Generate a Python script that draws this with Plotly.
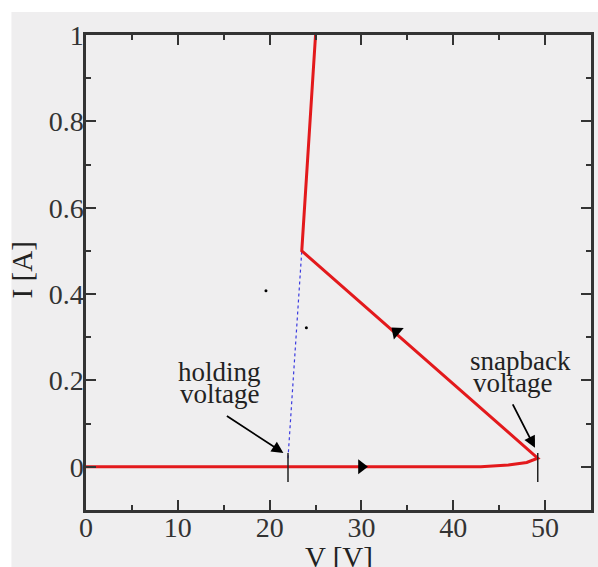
import plotly.graph_objects as go

# I-V snapback curve (red), V in volts, I in amps
curve_v = [0, 43, 46, 48, 49.2, 23.5, 25.0]
curve_i = [0, 0, 0.004, 0.01, 0.02, 0.5, 1.0]

# extrapolation (blue dotted)
extrap_v = [22.0, 23.5]
extrap_i = [0.02, 0.5]

# marker lines at holding and snapback voltage
holding_v = 22.0
snapback_v = 49.2
mark_i = [-0.035, 0.032]

# direction arrows along curve
dir_v = [30.0, 33.8]
dir_i = [0.0, 0.313]
dir_sym = ["triangle-right", "triangle-up"]
dir_angle = [0, -49]

# stray dots
dot_v = [19.6, 24.0]
dot_i = [0.408, 0.322]

x_ticks = [0, 10, 20, 30, 40, 50]
y_ticks = [0, 0.2, 0.4, 0.6, 0.8, 1]
y_tick_text = ["0", "0.2", "0.4", "0.6", "0.8", "1"]

RED = "#e3191c"
FONT = "Liberation Serif"
AX = "#333333"
BG = "#efeeef"

fig = go.Figure()
fig.add_trace(go.Scatter(x=extrap_v, y=extrap_i, mode="lines",
                         line=dict(color="#3a3ae0", width=1.2, dash="dot"), hoverinfo="skip"))
fig.add_trace(go.Scatter(x=curve_v, y=curve_i, mode="lines",
                         line=dict(color=RED, width=3), hoverinfo="skip"))
for v in [holding_v, snapback_v]:
    fig.add_trace(go.Scatter(x=[v, v], y=mark_i, mode="lines",
                             line=dict(color="#222222", width=1.5), hoverinfo="skip"))
fig.add_trace(go.Scatter(x=dir_v, y=dir_i, mode="markers",
                         marker=dict(symbol=dir_sym, angle=dir_angle, size=13, color="black",
                                     line=dict(width=0)), hoverinfo="skip"))
fig.add_trace(go.Scatter(x=dot_v, y=dot_i, mode="markers",
                         marker=dict(size=3, color="black"), hoverinfo="skip"))

L, R, T, B = 86, 4, 35, 57
W, H = 598, 567
pw = W - L - R
ph = H - T - B

def px_x(p):
    return (p - L) / pw

def px_y(p):
    return 1 - (p - T) / ph

shapes = [
    dict(type="rect", xref="paper", yref="paper", x0=px_x(-5), x1=px_x(W + 5),
         y0=px_y(12), y1=px_y(-5), fillcolor="white", line=dict(width=0), layer="below"),
    dict(type="rect", xref="paper", yref="paper", x0=px_x(-5), x1=px_x(11),
         y0=px_y(H + 5), y1=px_y(-5), fillcolor="white", line=dict(width=0), layer="below"),
]

tf = dict(family=FONT, size=27, color="#222222")
annotations = [
    dict(x=21.5, y=0.032, ax=-58, ay=-38, showarrow=True, arrowhead=2, arrowsize=1.3,
         arrowwidth=1.8, arrowcolor="black", text=""),
    dict(x=48.9, y=0.044, ax=-23, ay=-45, showarrow=True, arrowhead=2, arrowsize=1.3,
         arrowwidth=1.8, arrowcolor="black", text=""),
    dict(x=px_x(220), y=px_y(372), xref="paper", yref="paper", text="holding",
         showarrow=False, font=tf, xanchor="center", yanchor="middle"),
    dict(x=px_x(220), y=px_y(394), xref="paper", yref="paper", text="voltage",
         showarrow=False, font=tf, xanchor="center", yanchor="middle"),
    dict(x=px_x(470), y=px_y(361), xref="paper", yref="paper", text="snapback",
         showarrow=False, font=tf, xanchor="left", yanchor="middle"),
    dict(x=px_x(473), y=px_y(383), xref="paper", yref="paper", text="voltage",
         showarrow=False, font=tf, xanchor="left", yanchor="middle"),
    dict(x=px_x(340), y=px_y(557), xref="paper", yref="paper", text="V [V]",
         showarrow=False, font=dict(family=FONT, size=29, color="#222222"),
         xanchor="center", yanchor="middle"),
    dict(x=px_x(22), y=px_y(270), xref="paper", yref="paper", text="I [A]", textangle=-90,
         showarrow=False, font=dict(family=FONT, size=29, color="#222222"),
         xanchor="center", yanchor="middle"),
]

fig.update_layout(
    width=W, height=H,
    margin=dict(l=L, r=R, t=T, b=B),
    paper_bgcolor=BG, plot_bgcolor=BG,
    showlegend=False,
    shapes=shapes,
    annotations=annotations,
    font=dict(family=FONT, size=28, color="#333333"),
)
fig.update_xaxes(range=[0, 55], tickvals=x_ticks, ticks="inside", ticklen=10, tickwidth=2,
                 tickcolor=AX, showline=True, linecolor=AX, linewidth=2.5, mirror="ticks",
                 showgrid=False, zeroline=False, ticklabelstandoff=-9,
                 minor=dict(dtick=5, ticks="inside", ticklen=5, tickwidth=2, tickcolor=AX),
                 tickfont=dict(family=FONT, size=28, color="#333333"))
fig.update_yaxes(range=[-0.1, 1.0], tickvals=y_ticks, ticktext=y_tick_text, ticks="inside",
                 ticklen=10, tickwidth=2, tickcolor=AX, showline=True, linecolor=AX,
                 linewidth=2.5, mirror="ticks", showgrid=False, zeroline=False,
                 ticklabelstandoff=-6,
                 minor=dict(dtick=0.1, ticks="inside", ticklen=5, tickwidth=2, tickcolor=AX),
                 tickfont=dict(family=FONT, size=28, color="#333333"))

fig.write_html("out.html")
